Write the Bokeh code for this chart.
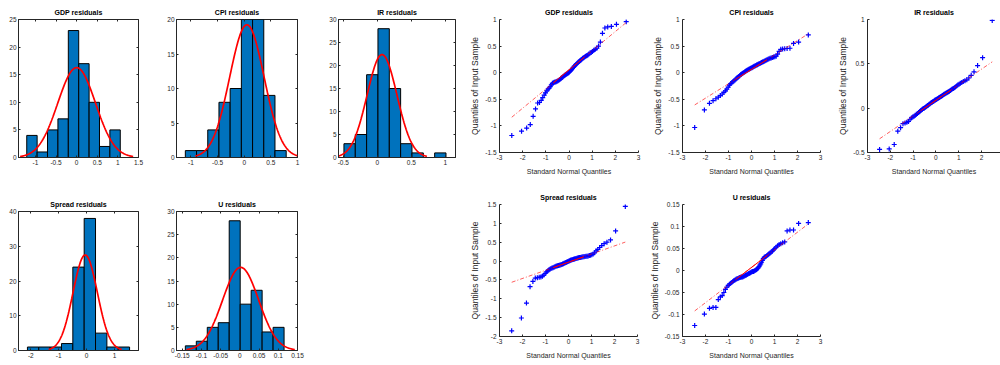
import numpy as np
from statistics import NormalDist
from bokeh.plotting import figure
from bokeh.layouts import row, column
from bokeh.models import Range1d, FixedTicker, LinearAxis, Spacer
from bokeh.embed import file_html
from bokeh.resources import INLINE

# ---------------- data ----------------
gdp_resid = [-1.18, -1.10, -1.04, -0.975, -0.82, -0.68, -0.57, -0.56, -0.52, -0.47,
             -0.42, -0.38, -0.34, -0.31, -0.29, -0.26, -0.23, -0.20, -0.19, -0.18,
             -0.175, -0.17, -0.16, -0.15, -0.14, -0.13, -0.115, -0.10, -0.09, -0.075,
             -0.06, -0.05, -0.04, -0.03, -0.02, -0.01, 0.0, 0.015, 0.03, 0.045,
             0.06, 0.08, 0.10, 0.12, 0.135, 0.15, 0.165, 0.18, 0.195, 0.21,
             0.225, 0.24, 0.255, 0.27, 0.283, 0.296, 0.307, 0.318, 0.33, 0.35,
             0.37, 0.38, 0.40, 0.42, 0.44, 0.46, 0.50, 0.575, 0.74, 0.84,
             0.86, 0.87, 0.91, 0.96]
cpi_resid = [-1.03, -0.70, -0.575, -0.525, -0.49, -0.46, -0.43, -0.40, -0.37, -0.34,
             -0.31, -0.27, -0.235, -0.205, -0.19, -0.17, -0.15, -0.135, -0.12, -0.10,
             -0.085, -0.07, -0.055, -0.04, -0.028, -0.016, -0.005, 0.006, 0.017, 0.027,
             0.037, 0.046, 0.055, 0.063, 0.071, 0.079, 0.087, 0.095, 0.103, 0.111,
             0.119, 0.127, 0.135, 0.143, 0.151, 0.159, 0.167, 0.175, 0.183, 0.191,
             0.199, 0.207, 0.215, 0.224, 0.234, 0.245, 0.254, 0.262, 0.270, 0.278,
             0.286, 0.294, 0.302, 0.31, 0.35, 0.40, 0.44, 0.445, 0.45, 0.455,
             0.46, 0.55, 0.575, 0.71]
ir_resid = [-0.465, -0.46, -0.41, -0.26, -0.22, -0.175, -0.168, -0.16, -0.15, -0.125,
            -0.11, -0.10, -0.09, -0.08, -0.07, -0.06, -0.05, -0.04, -0.03, -0.02,
            -0.012, -0.005, 0.0, 0.008, 0.015, 0.022, 0.03, 0.037, 0.045, 0.05,
            0.057, 0.063, 0.07, 0.076, 0.082, 0.088, 0.093, 0.098, 0.104, 0.11,
            0.115, 0.12, 0.126, 0.132, 0.138, 0.144, 0.15, 0.156, 0.162, 0.168,
            0.174, 0.18, 0.186, 0.192, 0.199, 0.207, 0.215, 0.223, 0.231, 0.24,
            0.25, 0.26, 0.27, 0.28, 0.29, 0.30, 0.31, 0.32, 0.34, 0.37,
            0.41, 0.48, 0.57, 0.99]
spread_resid = [-1.85, -1.51, -1.115, -0.68, -0.54, -0.45, -0.44, -0.43, -0.42, -0.40,
                -0.37, -0.33, -0.29, -0.26, -0.235, -0.215, -0.195, -0.185, -0.175, -0.162,
                -0.15, -0.14, -0.13, -0.122, -0.115, -0.108, -0.101, -0.095, -0.089, -0.08,
                -0.07, -0.06, -0.05, -0.04, -0.03, -0.02, -0.01, 0.0, 0.01, 0.02,
                0.028, 0.036, 0.044, 0.051, 0.058, 0.064, 0.07, 0.076, 0.082, 0.088,
                0.093, 0.098, 0.103, 0.108, 0.112, 0.116, 0.12, 0.125, 0.13, 0.137,
                0.145, 0.155, 0.17, 0.19, 0.22, 0.27, 0.31, 0.36, 0.41, 0.46,
                0.50, 0.56, 0.80, 1.45]
u_resid = [-0.125, -0.099, -0.086, -0.084, -0.084, -0.066, -0.060, -0.057, -0.050, -0.043,
           -0.038, -0.034, -0.031, -0.029, -0.027, -0.025, -0.023, -0.0215, -0.020, -0.019,
           -0.018, -0.017, -0.016, -0.0155, -0.015, -0.0145, -0.014, -0.013, -0.012, -0.011,
           -0.010, -0.009, -0.008, -0.007, -0.006, -0.005, -0.004, -0.003, -0.0025, -0.002,
           -0.001, 0.0, 0.001, 0.002, 0.004, 0.006, 0.009, 0.012, 0.015, 0.019,
           0.023, 0.027, 0.030, 0.031, 0.032, 0.034, 0.036, 0.038, 0.040, 0.042,
           0.044, 0.047, 0.050, 0.053, 0.056, 0.059, 0.061, 0.063, 0.065, 0.090,
           0.092, 0.092, 0.107, 0.109]

# histogram counts, first bin edge, bin width
gdp_counts = [4, 1, 5, 7, 23, 17, 10, 2, 5]
gdp_bins = (-1.21, 0.252)
cpi_counts = [1, 1, 4, 8, 10, 20, 20, 9, 1]
cpi_bins = (-1.106, 0.2104)
ir_counts = [3, 5, 18, 28, 15, 3, 1, 0, 1]
ir_bins = (-0.49, 0.1667)
spread_counts = [1, 1, 1, 2, 24, 38, 5, 1, 1]
spread_bins = (-2.12, 0.4067)
u_counts = [1, 2, 5, 6, 28, 10, 13, 4, 5]
u_bins = (-0.142, 0.02856)

# fitted normal (mu, sigma)
gdp_fit = (0.0, 0.457)
cpi_fit = (0.05, 0.323)
ir_fit = (0.07, 0.22)
spread_fit = (-0.05, 0.437)
u_fit = (0.002, 0.047)

# tick labels
gdp_hx = [-1, -0.5, 0, 0.5, 1, 1.5]
cpi_hx = [-1, -0.5, 0, 0.5, 1]
ir_hx = [-0.5, 0, 0.5, 1]
spread_hx = [-2, -1, 0, 1]
u_hx = [-0.15, -0.1, -0.05, 0, 0.05, 0.1, 0.15]
qq_x = [-3, -2, -1, 0, 1, 2, 3]
gdp_qy = [-1.5, -1, -0.5, 0, 0.5, 1]
ir_qy = [-0.5, 0, 0.5, 1]
spread_qy = [-2, -1.5, -1, -0.5, 0, 0.5, 1, 1.5]
u_qy = [-0.15, -0.1, -0.05, 0, 0.05, 0.1, 0.15]

# ---------------- style ----------------
AX = "#262626"
BLUE = "#0072BD"
FONT = "Liberation Sans"


def fmt(v):
    return f"{v:g}"


def style_axis(ax, ticks, standoff=2):
    ax.ticker = FixedTicker(ticks=ticks)
    ax.major_label_overrides = {t: fmt(t) for t in ticks}
    ax.major_tick_in = 2
    ax.major_tick_out = 0
    ax.minor_tick_line_color = None
    ax.axis_line_color = AX
    ax.major_tick_line_color = AX
    ax.major_label_text_font = FONT
    ax.major_label_text_font_size = "6.5px"
    ax.major_label_text_color = AX
    ax.major_label_standoff = standoff


def blank_axis(ticks):
    ax = LinearAxis(ticker=FixedTicker(ticks=ticks))
    ax.major_tick_in = 2
    ax.major_tick_out = 0
    ax.minor_tick_line_color = None
    ax.axis_line_color = None
    ax.major_tick_line_color = AX
    ax.major_label_text_font_size = "0px"
    ax.major_label_text_color = None
    ax.major_label_standoff = 0
    return ax


def base_fig(title, W, H, L, R, T, B, xr, yr):
    p = figure(width=W, height=H, x_range=Range1d(*xr), y_range=Range1d(*yr),
               output_backend="svg", toolbar_location=None, tools="", title=title,
               min_border_left=L, min_border_right=R, min_border_top=T, min_border_bottom=B)
    p.xgrid.visible = False
    p.ygrid.visible = False
    p.background_fill_color = "white"
    p.border_fill_color = "white"
    p.title.align = "center"
    p.title.text_font = FONT
    p.title.text_font_size = "7px"
    p.title.text_font_style = "bold"
    p.title.text_color = "black"
    p.title.standoff = 7
    p.title.offset = 0
    return p


def make_hist(title, counts, bins, fit, xr, yr, xticks, yticks, W, H, L, R, T, B):
    start, width = bins
    mu, sigma = fit
    n = sum(counts)
    left = [start + k * width for k in range(len(counts))]
    right = [l + width for l in left]
    p = base_fig(title, W, H, L, R, T, B, xr, yr)
    p.quad(left=left, right=right, bottom=0, top=counts, fill_color=BLUE,
           line_color="black", line_width=1)
    xs = np.linspace(mu - 3 * sigma, mu + 3 * sigma, 200)
    ys = n * width * np.exp(-0.5 * ((xs - mu) / sigma) ** 2) / (sigma * np.sqrt(2 * np.pi))
    p.line(xs, ys, line_color="red", line_width=1.7)
    p.outline_line_color = AX
    p.outline_line_width = 1
    style_axis(p.xaxis[0], xticks)
    style_axis(p.yaxis[0], yticks)
    p.add_layout(blank_axis(xticks), "above")
    p.add_layout(blank_axis(yticks), "right")
    return p


def prctile(vals, pct):
    v = sorted(vals)
    n = len(v)
    pos = pct / 100 * n + 0.5
    i = int(np.floor(pos))
    f = pos - i
    i = min(max(i, 1), n)
    j = min(i + 1, n)
    return v[i - 1] + f * (v[j - 1] - v[i - 1])


def make_qq(title, resid, xr, yr, yticks, W, H, L, R, T, B):
    y = sorted(resid)
    n = len(y)
    nd = NormalDist()
    x = [nd.inv_cdf((i + 0.5) / n) for i in range(n)]
    p = base_fig(title, W, H, L, R, T, B, xr, yr)
    p.outline_line_color = None
    p.scatter(x, y, marker="cross", size=5, line_color="blue", line_width=1.2)
    q1x, q3x = prctile(x, 25), prctile(x, 75)
    q1y, q3y = prctile(y, 25), prctile(y, 75)
    slope = (q3y - q1y) / (q3x - q1x)
    cx, cy = (q1x + q3x) / 2, (q1y + q3y) / 2
    ex = [min(x), max(x)]
    ey = [cy + slope * (v - cx) for v in ex]
    p.line(ex, ey, line_color="red", line_width=0.8, line_dash="4 2 1 2", line_alpha=0.8)
    p.line([q1x, q3x], [q1y, q3y], line_color="red", line_width=1)
    style_axis(p.xaxis[0], qq_x)
    style_axis(p.yaxis[0], yticks, standoff=3)
    p.xaxis[0].axis_label = "Standard Normal Quantiles"
    p.xaxis[0].axis_label_text_font = FONT
    p.xaxis[0].axis_label_text_font_size = "7px"
    p.xaxis[0].axis_label_text_font_style = "normal"
    p.xaxis[0].axis_label_text_color = AX
    p.xaxis[0].axis_label_standoff = 5
    p.yaxis[0].axis_label = "Quantiles of Input Sample"
    p.yaxis[0].axis_label_text_font = FONT
    p.yaxis[0].axis_label_text_font_size = "8.5px"
    p.yaxis[0].axis_label_text_font_style = "normal"
    p.yaxis[0].axis_label_text_color = AX
    p.yaxis[0].axis_label_standoff = 2
    return p


# ---------------- figures ----------------
h_gdp = make_hist("GDP residuals", gdp_counts, gdp_bins, gdp_fit, (-1.41, 1.5), (0, 25),
                  gdp_hx, [0, 5, 10, 15, 20, 25], 150, 180, 18, 12, 19, 23)
h_cpi = make_hist("CPI residuals", cpi_counts, cpi_bins, cpi_fit, (-1.272, 1.0), (0, 20),
                  cpi_hx, [0, 5, 10, 15, 20], 160, 180, 26, 13, 19, 23)
h_ir = make_hist("IR residuals", ir_counts, ir_bins, ir_fit, (-0.57, 1.15), (0, 30),
                 ir_hx, [0, 5, 10, 15, 20, 25, 30], 155, 180, 28, 10, 19, 23)
q_gdp = make_qq("GDP residuals", gdp_resid, (-3, 3), (-1.5, 1), gdp_qy, 180, 180, 34, 7, 19, 28)
q_cpi = make_qq("CPI residuals", cpi_resid, (-3, 3), (-1.5, 1), gdp_qy, 185, 180, 37, 10, 19, 28)
q_ir = make_qq("IR residuals", ir_resid, (-3, 2.833), (-0.5, 1), ir_qy, 170, 180, 37, 0, 19, 28)

h_spread = make_hist("Spread residuals", spread_counts, spread_bins, spread_fit, (-2.44, 1.86),
                     (0, 40), spread_hx, [0, 10, 20, 30, 40], 150, 185, 18, 12, 31, 15)
h_u = make_hist("U residuals", u_counts, u_bins, u_fit, (-0.165, 0.15), (0, 30),
                u_hx, [0, 5, 10, 15, 20, 25, 30], 160, 185, 26, 13, 31, 15)
q_spread = make_qq("Spread residuals", spread_resid, (-3, 3), (-2, 1.5), spread_qy,
                   180, 185, 34, 8, 24, 29)
q_u = make_qq("U residuals", u_resid, (-3, 3), (-0.15, 0.15), u_qy, 185, 185, 37, 10, 24, 29)

left_block = column(row(h_gdp, h_cpi, h_ir, spacing=0),
                    row(h_spread, h_u, Spacer(width=155, height=185), spacing=0),
                    spacing=0)
right_block = column(row(q_gdp, q_cpi, q_ir, spacing=0),
                     row(q_spread, q_u, Spacer(width=170, height=185), spacing=0),
                     spacing=0)
layout = row(left_block, right_block, spacing=0)

open("out.html", "w").write(file_html(layout, INLINE))
